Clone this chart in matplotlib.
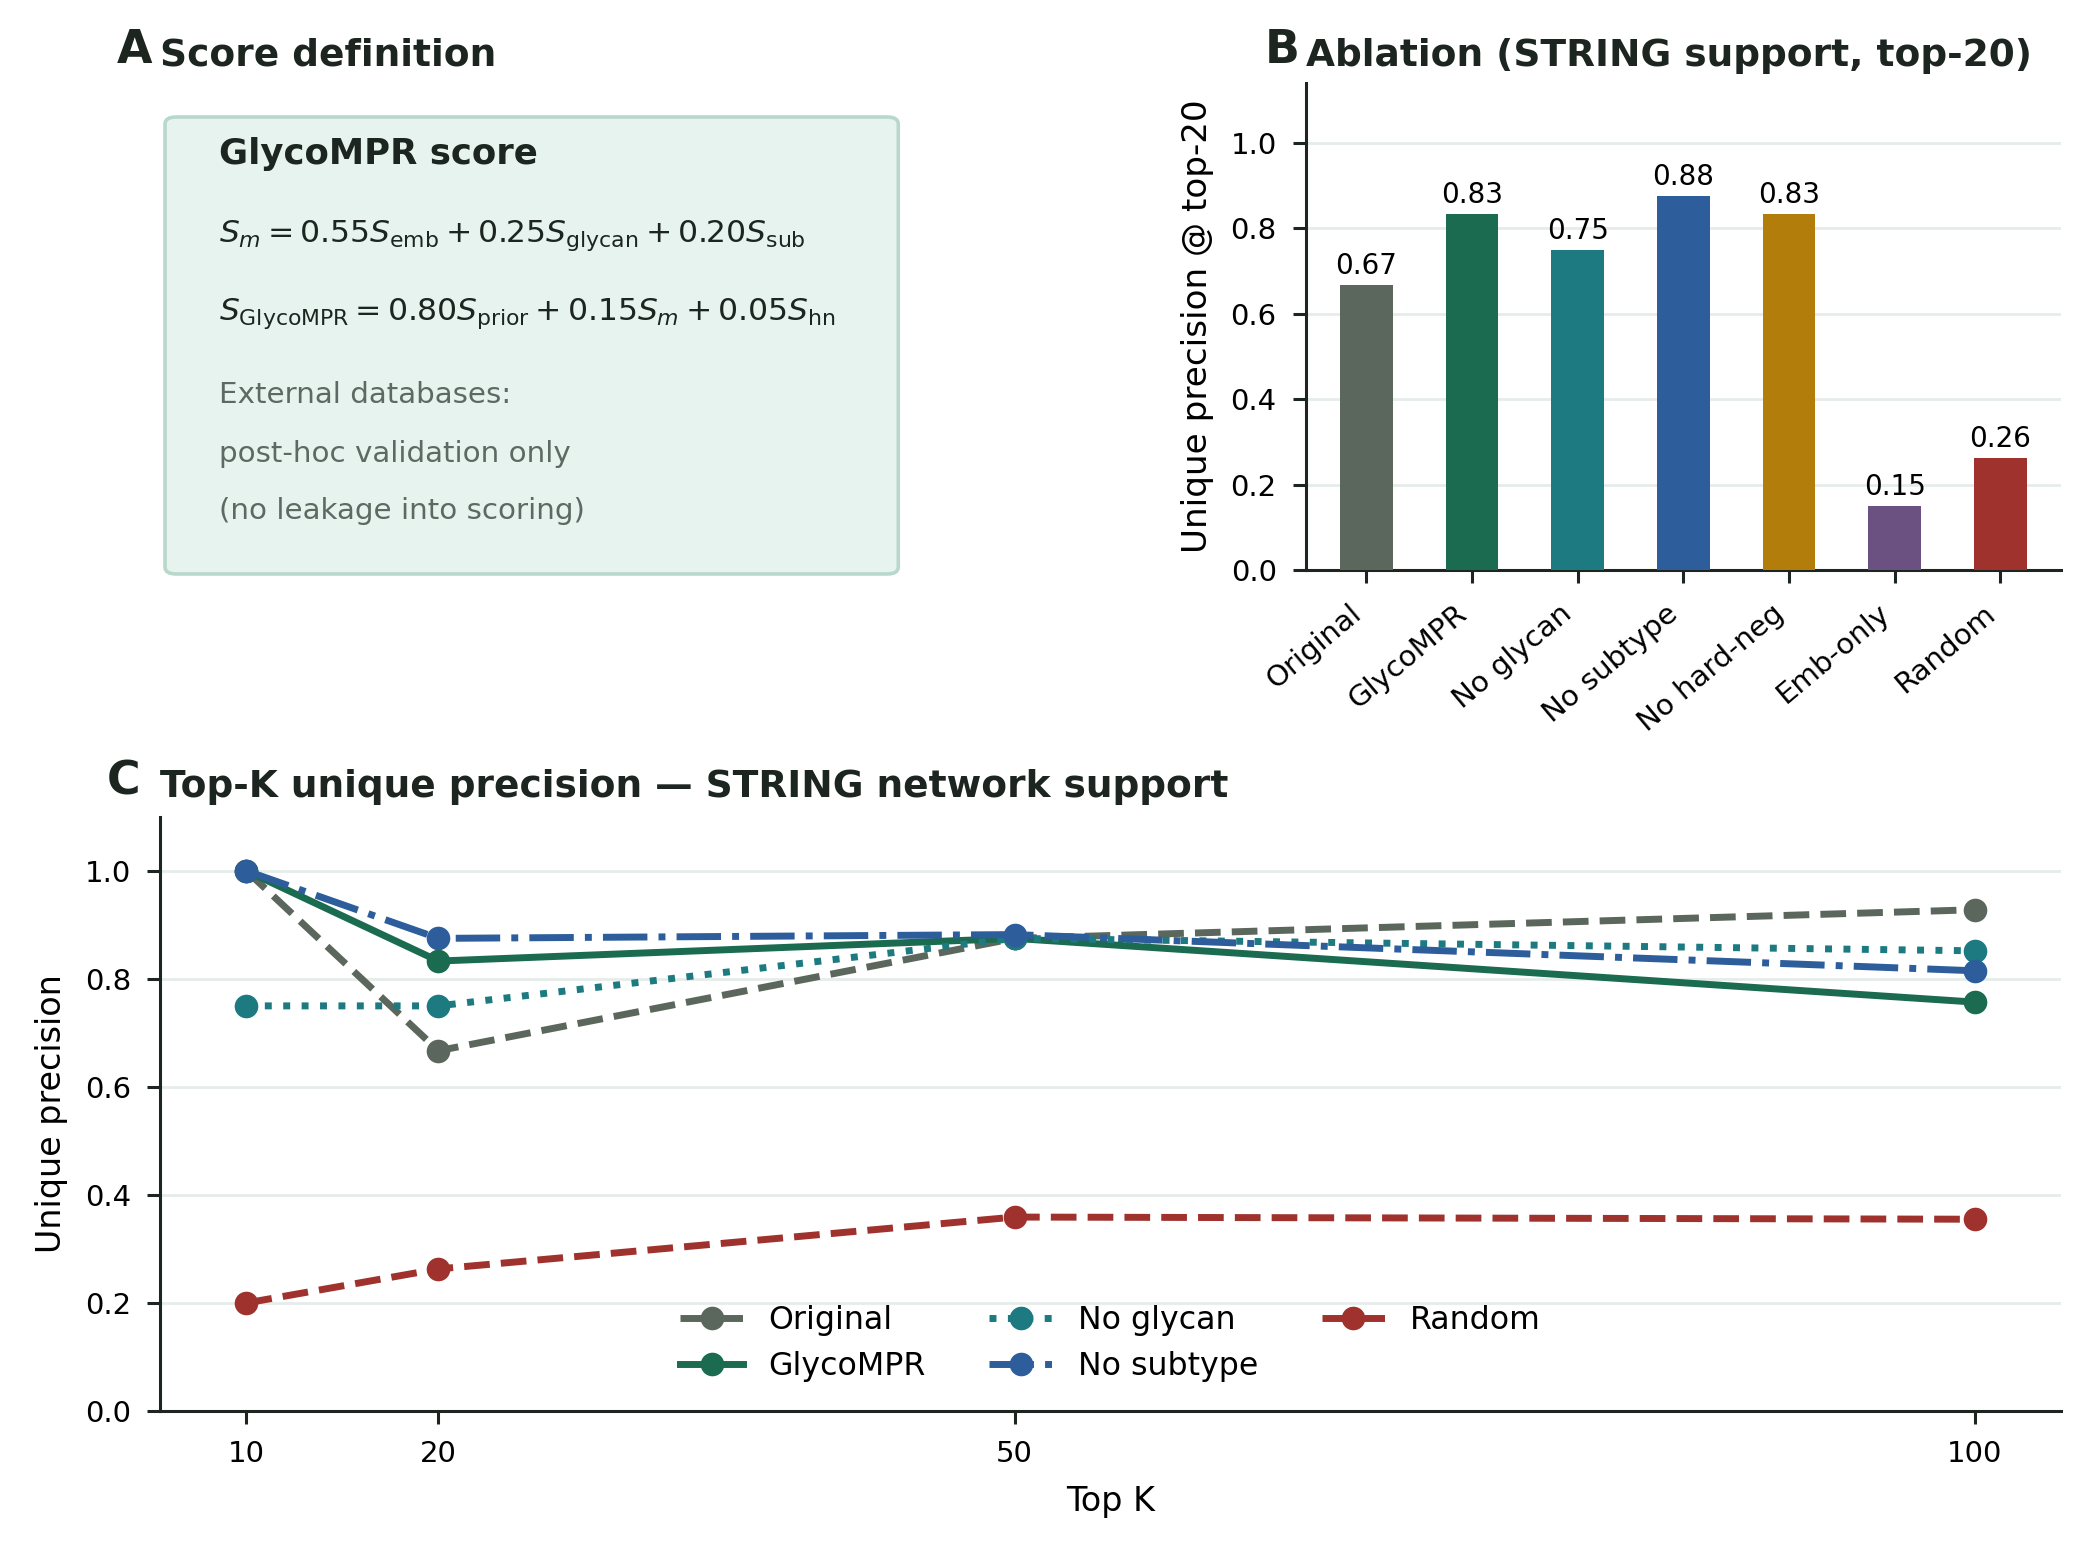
import matplotlib
matplotlib.use("Agg")
import matplotlib.pyplot as plt
from matplotlib.patches import FancyBboxPatch

# ---- data ----
ablation_labels = ["Original", "GlycoMPR", "No glycan", "No subtype", "No hard-neg", "Emb-only", "Random"]
ablation_values = [0.667, 0.833, 0.750, 0.875, 0.833, 0.150, 0.263]
ablation_colors = ["#5b675c", "#1b6b50", "#1d7a80", "#2d5e9b", "#b27d0b", "#6a5182", "#a0322e"]

topk = [10, 20, 50, 100]
series_names = ["Original", "GlycoMPR", "No glycan", "No subtype", "Random"]
original = [1.0, 0.667, 0.875, 0.928]
glycompr = [1.0, 0.833, 0.875, 0.757]
no_glycan = [0.75, 0.75, 0.875, 0.852]
no_subtype = [1.0, 0.875, 0.882, 0.815]
random_ = [0.20, 0.263, 0.359, 0.355]
series_values = [original, glycompr, no_glycan, no_subtype, random_]
series_colors = ["#5b675c", "#1b6b50", "#1d7a80", "#2d5e9b", "#a0322e"]
series_styles = ["--", "-", ":", "-.", "--"]

TXT = "#1c2520"
GRID = "#e6ecea"

plt.rcParams.update({
    "font.family": ["DejaVu Sans"],
    "font.size": 10.5,
    "xtick.labelsize": 10.5,
    "ytick.labelsize": 10.5,
    "axes.edgecolor": TXT,
    "axes.linewidth": 1.1,
    "axes.labelpad": 6,
    "xtick.color": TXT,
    "ytick.color": TXT,
    "xtick.labelcolor": "black",
    "ytick.labelcolor": "black",
    "xtick.major.size": 4.8,
    "ytick.major.size": 4.8,
    "xtick.major.pad": 5.6,
    "ytick.major.pad": 5.6,
    "xtick.major.width": 1.1,
    "ytick.major.width": 1.1,
})

fig = plt.figure(figsize=(10.445, 7.75), dpi=200)

# ---- Panel A ----
axA = fig.add_axes([0.079, 0.6297, 0.351, 0.2948])
axA.set_xlim(0, 1)
axA.set_ylim(0, 1)
axA.axis("off")
box = FancyBboxPatch((0.0, 0.0), 1.0, 1.0, boxstyle="round,pad=0,rounding_size=0.015",
                     transform=axA.transAxes, facecolor="#e7f3ef", edgecolor="#b9d8cc",
                     linewidth=1.3, clip_on=False)
axA.add_patch(box)
fig.text(0.0766, 0.9645, "Score definition", fontsize=13.5, fontweight="bold", color=TXT, va="center")
fig.text(0.0561, 0.9675, "A", fontsize=16.5, fontweight="bold", color=TXT, va="center")
axA.text(0.074, 0.918, "GlycoMPR score", fontsize=12.8, fontweight="bold", color=TXT, va="center")
axA.text(0.074, 0.741, r"$S_m = 0.55S_{\mathrm{emb}} + 0.25S_{\mathrm{glycan}} + 0.20S_{\mathrm{sub}}$",
         fontsize=11.3, color=TXT, va="center")
axA.text(0.074, 0.569, r"$S_{\mathrm{GlycoMPR}} = 0.80S_{\mathrm{prior}} + 0.15S_m + 0.05S_{\mathrm{hn}}$",
         fontsize=11.3, color=TXT, va="center")
for yy, t in zip([0.391, 0.262, 0.137], ["External databases:", "post-hoc validation only", "(no leakage into scoring)"]):
    axA.text(0.074, yy, t, fontsize=10.6, color="#5c6a62", va="center")

# ---- Panel B ----
axB = fig.add_axes([0.625, 0.632, 0.3616, 0.3145])
xB = list(range(len(ablation_labels)))
axB.bar(xB, ablation_values, width=0.5, color=ablation_colors, zorder=3)
for xi, v in zip(xB, ablation_values):
    axB.text(xi, v + 0.012, f"{v:.2f}", ha="center", va="bottom", fontsize=10, color="black")
axB.set_ylim(0, 1.14)
axB.set_yticks([0, 0.2, 0.4, 0.6, 0.8, 1.0])
axB.set_xticks(xB)
axB.set_xticklabels(ablation_labels, rotation=40, ha="right")
axB.set_ylabel("Unique precision @ top-20", fontsize=12.3, color="black")
axB.yaxis.grid(True, color=GRID, linewidth=1.0, zorder=0)
axB.set_axisbelow(True)
for s in ["top", "right"]:
    axB.spines[s].set_visible(False)
axB.set_title("Ablation (STRING support, top-20)", loc="left", fontsize=13.5, fontweight="bold", color=TXT, pad=6)
fig.text(0.6055, 0.9675, "B", fontsize=16.5, fontweight="bold", color=TXT, va="center")

# ---- Panel C ----
axC = fig.add_axes([0.0766, 0.0897, 0.91, 0.3833])
for name, vals, c, ls in zip(series_names, series_values, series_colors, series_styles):
    axC.plot(topk, vals, linestyle=ls, color=c, marker="o", markersize=7.5, linewidth=2.5, label=name, zorder=3)
axC.set_ylim(0, 1.1)
axC.set_xticks(topk)
axC.set_yticks([0, 0.2, 0.4, 0.6, 0.8, 1.0])
axC.set_xlabel("Top K", fontsize=12, color="black")
axC.set_ylabel("Unique precision", fontsize=12, color="black")
axC.yaxis.grid(True, color=GRID, linewidth=1.0, zorder=0)
axC.set_axisbelow(True)
for s in ["top", "right"]:
    axC.spines[s].set_visible(False)
axC.set_title("Top-K unique precision — STRING network support", loc="left", fontsize=13.5,
              fontweight="bold", color=TXT, pad=7)
fig.text(0.051, 0.4955, "C", fontsize=16.5, fontweight="bold", color=TXT, va="center")
axC.legend(loc="lower center", ncol=3, frameon=False, fontsize=11.4)

fig.savefig("out.png", dpi=200)
